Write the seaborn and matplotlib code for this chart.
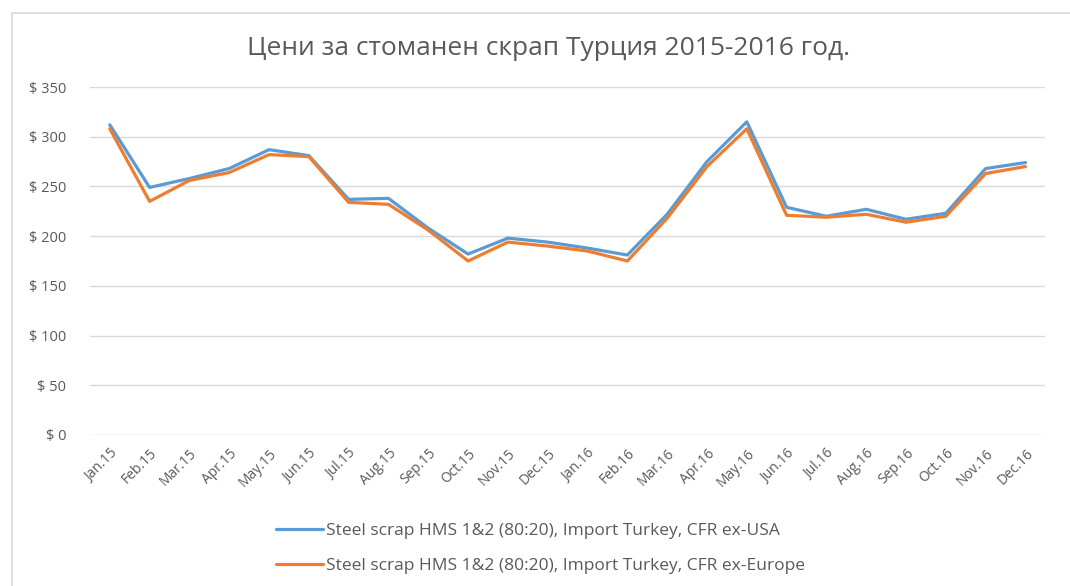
import pandas as pd
import seaborn as sns
from matplotlib import pyplot as plt
from matplotlib.patches import Rectangle

months = ["Jan.15", "Feb.15", "Mar.15", "Apr.15", "May.15", "Jun.15",
          "Jul.15", "Aug.15", "Sep.15", "Oct.15", "Nov.15", "Dec.15",
          "Jan.16", "Feb.16", "Mar.16", "Apr.16", "May.16", "Jun.16",
          "Jul.16", "Aug.16", "Sep.16", "Oct.16", "Nov.16", "Dec.16"]
usa = [312, 249, 258, 268, 287, 281, 237, 238, 208, 182, 198, 194,
       188, 181, 222, 275, 315, 229, 220, 227, 217, 223, 268, 274]
europe = [308, 235, 256, 264, 282, 280, 234, 232, 206, 175, 194, 190,
          185, 175, 218, 270, 308, 221, 219, 222, 214, 220, 263, 270]
series_names = ["Steel scrap HMS 1&2 (80:20), Import Turkey, CFR ex-USA",
                "Steel scrap HMS 1&2 (80:20), Import Turkey, CFR ex-Europe"]
title = "Цени за стоманен скрап Турция 2015-2016 год."

df = pd.DataFrame({
    "pos": list(range(len(months))) * 2,
    "price": usa + europe,
    "series": [series_names[0]] * len(usa) + [series_names[1]] * len(europe),
})

sns.set_theme(style="white")
plt.rcParams["font.family"] = ["Open Sans", "DejaVu Sans"]
grey = "#595959"

fig = plt.figure(figsize=(10.7, 5.86), dpi=100)
ax = fig.add_axes([0.084, 0.2577, 0.893, 0.5938])

sns.lineplot(data=df, x="pos", y="price", hue="series", ax=ax,
             palette=["#5B9BD5", "#ED7D31"], linewidth=2.3, sort=False,
             legend=True)

ax.set_xlim(-0.5, len(months) - 0.5)
ax.set_ylim(0, 350)
ax.set_yticks(range(0, 351, 50))
ax.set_yticklabels([f"$ {v}" for v in range(0, 351, 50)], fontsize=10.5, color=grey)
ax.set_xticks(range(len(months)))
ax.set_xticklabels(months, rotation=45, ha="right", rotation_mode="anchor",
                   fontsize=10, color=grey)
ax.tick_params(axis="x", length=0, pad=8)
ax.tick_params(axis="y", length=0, pad=17)
ax.set_xlabel("")
ax.set_ylabel("")
ax.grid(axis="y", color="#D9D9D9", linewidth=1)
ax.set_axisbelow(True)
for s in ax.spines.values():
    s.set_visible(False)

handles, labels = ax.get_legend_handles_labels()
ax.get_legend().remove()
fig.legend(handles, labels, loc="upper center", bbox_to_anchor=(0.505, 0.128),
           ncol=1, frameon=False, fontsize=12.5, labelcolor=grey,
           handlelength=2.75, handletextpad=0.15, labelspacing=1.05,
           borderpad=0.2)

fig.text(0.513, 0.918, title, ha="center", va="center", fontsize=19, color=grey)

# chart border
fig.patches.append(Rectangle((12 / 1070, -0.1), 1.2, 1 - 13 / 586 + 0.1,
                             transform=fig.transFigure, fill=False,
                             edgecolor="#D9D9D9", linewidth=1.2))

fig.savefig("out.png", dpi=100)
